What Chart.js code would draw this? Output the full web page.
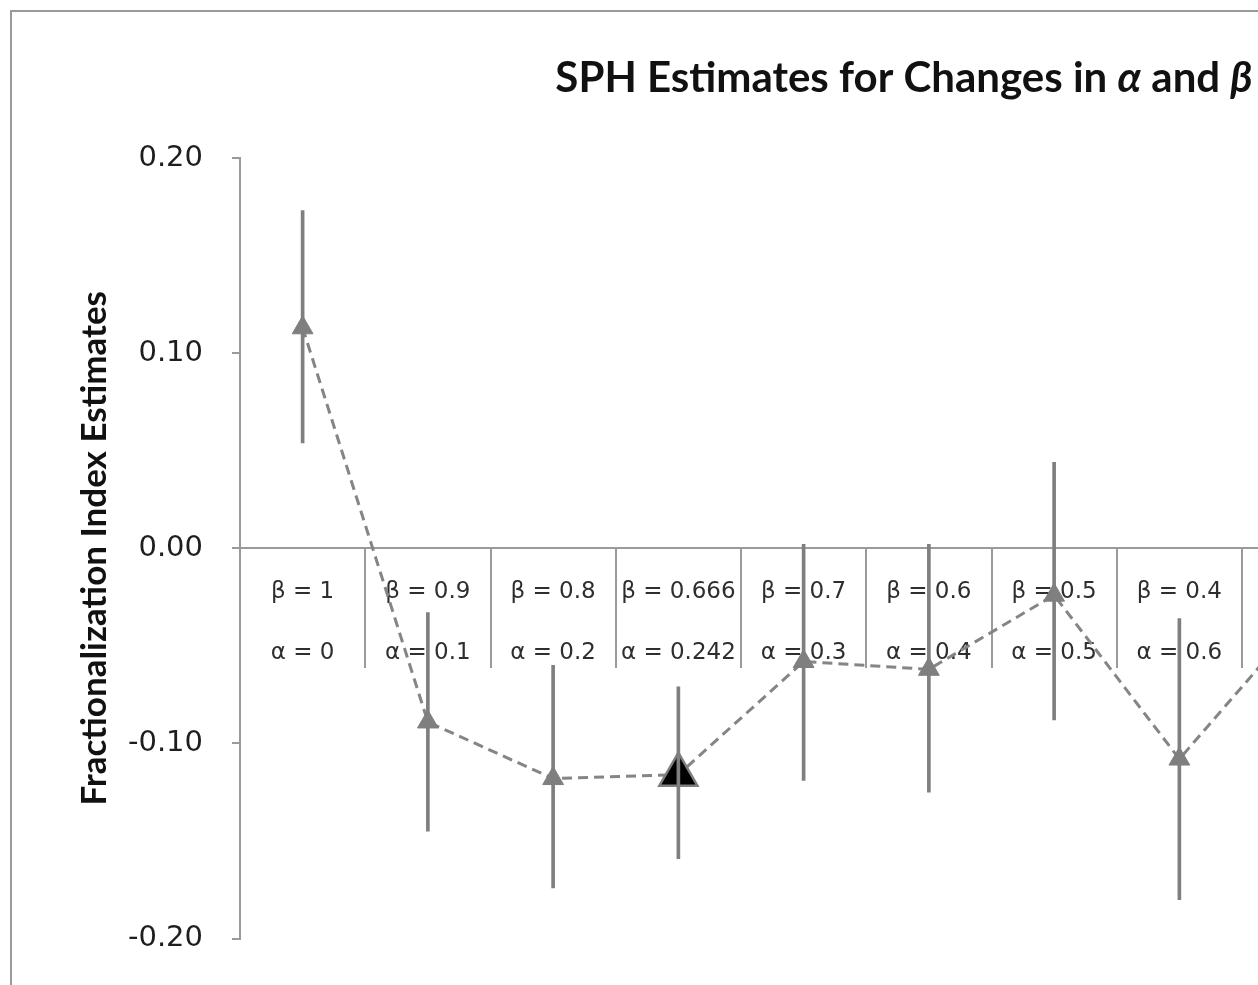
<!DOCTYPE html>
<html lang="en">
    <head>
        <meta charset="UTF-8" />
        <title>SPH Estimates</title>
        <script src="https://cdn.jsdelivr.net/npm/chart.js@4.4.1/dist/chart.umd.min.js"></script>
        <style>
            html,
            body {
                margin: 0;
                overflow: hidden;
                background: #fff;
            }
            #frame {
                position: absolute;
                left: 10px;
                top: 10px;
                width: 1900px;
                height: 1100px;
                border-left: 2px solid #9a9a9a;
                border-top: 2px solid #9a9a9a;
            }
        </style>
    </head>
    <body>
        <div id="frame">
            <canvas id="chart1" width="1400" height="973"></canvas>
        </div>
    </body>
</html>
<script>
    // categories (two label rows under the zero line)
    const betaLabels = ['β = 1', 'β = 0.9', 'β = 0.8', 'β = 0.666', 'β = 0.7', 'β = 0.6', 'β = 0.5', 'β = 0.4', 'β = 0.3'];
    const alphaLabels = ['α = 0', 'α = 0.1', 'α = 0.2', 'α = 0.242', 'α = 0.3', 'α = 0.4', 'α = 0.5', 'α = 0.6', 'α = 0.7'];

    // point estimates and interval ends (last category is cut off in the picture)
    const estimates = [0.113, -0.089, -0.118, -0.116, -0.058, -0.062, -0.024, -0.108, -0.034];
    const lower = [0.054, -0.145, -0.174, -0.159, -0.119, -0.125, -0.088, -0.180, null];
    const upper = [0.173, -0.033, -0.060, -0.071, 0.002, 0.002, 0.044, -0.036, null];

    // y axis ticks
    const yMin = -0.2;
    const yMax = 0.2;
    const yStep = 0.1;

    const highlight = 3; // beta = 0.666 is drawn as the big black marker

    const labels = betaLabels.map((b, i) => [b, alphaLabels[i]]);
    const intervals = lower.map((lo, i) => (lo === null ? null : [lo, upper[i]]));

    const axisGrey = '#9a9a9a';
    const markGrey = '#7f7f7f';

    // chart title with italic greek letters, drawn on the canvas
    const titlePlugin = {
        id: 'sphTitle',
        afterDraw(chart) {
            const ctx = chart.ctx;
            const parts = [
                ['SPH Estimates for Changes in ', false],
                ['α', true],
                [' and ', false],
                ['β', true],
            ];
            const fontOf = (it) => (it ? 'italic ' : '') + 'bold 42px Lato';
            ctx.save();
            let total = 0;
            parts.forEach(([t, it]) => {
                ctx.font = fontOf(it);
                total += ctx.measureText(t).width;
            });
            let x = 892 - total / 2;
            ctx.fillStyle = '#111';
            ctx.textBaseline = 'middle';
            parts.forEach(([t, it]) => {
                ctx.font = fontOf(it);
                ctx.fillText(t, x, 66);
                x += ctx.measureText(t).width;
            });
            ctx.restore();
        },
    };

    const ctx = document.getElementById('chart1').getContext('2d');
    new Chart(ctx, {
        type: 'line',
        data: {
            labels: labels,
            datasets: [
                {
                    type: 'bar',
                    label: 'interval',
                    data: intervals,
                    backgroundColor: markGrey,
                    borderWidth: 0,
                    barThickness: 3,
                    order: 0,
                },
                {
                    type: 'line',
                    label: 'estimate',
                    data: estimates,
                    borderColor: '#858585',
                    borderWidth: 3,
                    borderDash: [10, 6],
                    tension: 0,
                    fill: false,
                    pointStyle: 'triangle',
                    pointRadius: estimates.map((v, i) => (i === highlight ? 22 : 12)),
                    pointBackgroundColor: estimates.map((v, i) => (i === highlight ? '#000' : markGrey)),
                    pointBorderColor: markGrey,
                    pointBorderWidth: estimates.map((v, i) => (i === highlight ? 2.5 : 1)),
                    order: 1,
                },
            ],
        },
        options: {
            responsive: false,
            animation: false,
            layout: {
                padding: { top: 146, right: 44.75, bottom: 44, left: 0 },
            },
            plugins: {
                legend: { display: false },
                tooltip: { enabled: false },
                title: { display: false },
            },
            scales: {
                x: {
                    type: 'category',
                    position: { y: 0 },
                    offset: true,
                    afterFit: (s) => {
                        s.height = 0;
                    },
                    grid: {
                        offset: true,
                        drawOnChartArea: false,
                        drawTicks: true,
                        tickLength: 119,
                        color: axisGrey,
                        lineWidth: 2,
                    },
                    border: { display: true, color: axisGrey, width: 2 },
                    ticks: {
                        autoSkip: false,
                        maxRotation: 0,
                        minRotation: 0,
                        padding: -105.5,
                        color: '#2e2e2e',
                        font: { family: 'DejaVu Sans', size: 23, lineHeight: 2.65 },
                    },
                },
                y: {
                    min: yMin,
                    max: yMax,
                    afterFit: (s) => {
                        s.width = 228;
                    },
                    grid: {
                        drawOnChartArea: false,
                        drawTicks: true,
                        tickLength: 8,
                        color: axisGrey,
                        lineWidth: 2,
                    },
                    border: { display: true, color: axisGrey, width: 2 },
                    ticks: {
                        stepSize: yStep,
                        padding: 29,
                        color: '#1e1e1e',
                        font: { family: 'DejaVu Sans', size: 29 },
                        callback: (v) => (Math.round(v * 100) / 100).toFixed(2),
                    },
                    title: {
                        display: true,
                        text: 'Fractionalization Index Estimates',
                        color: '#111',
                        padding: { top: 62, bottom: 0 },
                        font: { family: 'Lato', size: 35, weight: 'bold' },
                    },
                },
            },
        },
        plugins: [titlePlugin],
    });
</script>
